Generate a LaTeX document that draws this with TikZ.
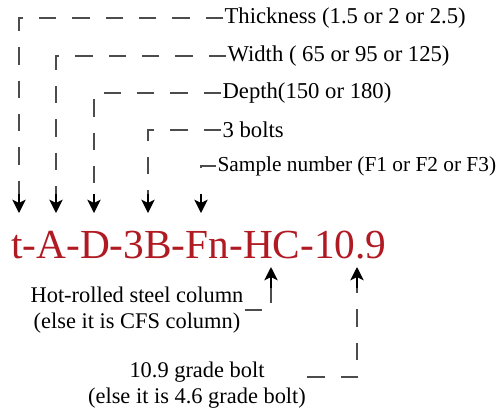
\documentclass[tikz,border=0pt]{standalone}
\usepackage{fontspec}
\setmainfont{Liberation Serif}
\usepackage{tikz}
\usetikzlibrary{arrows.meta}
\definecolor{codered}{RGB}{176,26,34}

\begin{document}
\begin{tikzpicture}[x=0.75pt, y=-0.75pt,
	lbl/.style={anchor=west, inner sep=1pt, font=\fontsize{17}{19}\selectfont},
	note/.style={align=center, inner sep=1pt, font=\fontsize{16.8}{19.5}\selectfont},
	lead/.style={draw=black!70, line width=1.1pt, dash pattern=on 13pt off 12pt},
	tip/.style={draw=black, line width=1.1pt, -{Stealth[length=10pt, width=10pt, inset=2.5pt]}}]
	\useasboundingbox (0,0) rectangle (504,408);
	% the code
	\node[font=\fontsize{31}{33}\selectfont, text=codered, anchor=base west, inner sep=0pt] (code) at (11,258) {t-A-D-3B-Fn-HC-10.9};
	% labels above
	\node[lbl] (thk) at (223,18) {Thickness (1.5 or 2 or 2.5)};
	\node[lbl] (wid) at (226,56) {Width ( 65 or 95 or 125)};
	\node[lbl] (dep) at (221,93) {Depth(150 or 180)};
	\node[lbl] (blt) at (221,130) {3 bolts};
	\node[lbl, font=\fontsize{16}{18}\selectfont] (smp) at (216,166) {Sample number (F1 or F2 or F3)};
	% arrow ends on the letters
	\coordinate (a1) at (19,194);  \coordinate (t1) at (19,213);
	\coordinate (a2) at (56,194);  \coordinate (t2) at (56,213);
	\coordinate (a3) at (94,194);  \coordinate (t3) at (94,213);
	\coordinate (a4) at (148,194); \coordinate (t4) at (148,213);
	\coordinate (a5) at (201,194); \coordinate (t5) at (201,213);
	\draw[lead] (thk.west) -| (a1);
	\draw[lead] (wid.west) -| (a2);
	\draw[lead] (dep.west) -| (a3);
	\draw[lead] (blt.west) -| (a4);
	\draw[lead] (smp.west) -| ([yshift=-8pt]smp.west -| t5);
	\foreach \i in {1,...,5}
		\draw[tip] (a\i) -- (t\i);
	% labels below
	\node[note] (hrc) at (137,310) {Hot-rolled steel column\\(else it is CFS column)};
	\node[note] (gbt) at (197,385) {10.9 grade bolt\\(else it is 4.6 grade bolt)};
	\coordinate (b1) at (271,288); \coordinate (u1) at (271,267);
	\coordinate (b2) at (357,288); \coordinate (u2) at (357,267);
	\draw[lead] (hrc.east) -| (b1);
	\draw[lead] ([yshift=6pt]gbt.east) -| (b2);
	\draw[tip] (b1) -- (u1);
	\draw[tip] (b2) -- (u2);
\end{tikzpicture}
\end{document}
